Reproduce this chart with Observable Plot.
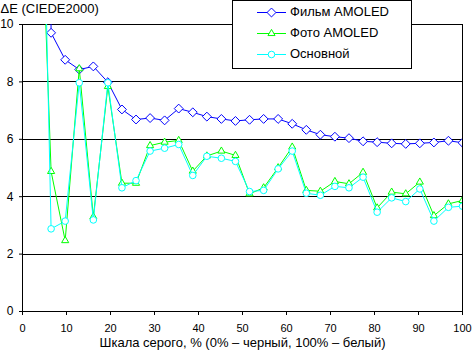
<!DOCTYPE html>
<html>
<head>
<meta charset="utf-8">
<script src="https://cdn.jsdelivr.net/npm/d3@7"></script>
<script src="https://cdn.jsdelivr.net/npm/@observablehq/plot@0.6"></script>
<style>
  html, body { margin: 0; padding: 0; background: #fff; overflow: hidden; }
  #wrap { position: relative; width: 472px; height: 353px; font-family: "Liberation Sans", Arial, sans-serif; }
  #legend { position: absolute; left: 232px; top: 0px; width: 180px; height: 69px; box-sizing: border-box;
            border: 1px solid #000; background: #fff; }
  .row { position: absolute; left: 0; height: 16px; width: 100%; font-size: 13px; line-height: 16px; color: #000; }
  .row svg { position: absolute; left: 24px; top: 0; }
  .row span { position: absolute; left: 57px; top: 0; white-space: nowrap; }
</style>
</head>
<body>
<div id="wrap"></div>
<script>
// Grey-scale steps, % (0% = black, 100% = white)
const grey = [3.2, 6.5, 9.7, 12.9, 16.1, 19.4, 22.6, 25.8, 29.0, 32.3, 35.5, 38.7, 41.9, 45.2, 48.4, 51.6,
              54.8, 58.1, 61.3, 64.5, 67.7, 71.0, 74.2, 77.4, 80.6, 83.9, 87.1, 90.3, 93.5, 96.8, 100];
const filmAmoled = [60, 9.71, 8.77, 8.43, 8.54, 7.99, 7.04, 6.69, 6.74, 6.66, 7.07, 6.94, 6.79, 6.71, 6.64, 6.68,
                    6.71, 6.71, 6.54, 6.33, 6.16, 6.09, 6.04, 5.93, 5.90, 5.86, 5.84, 5.86, 5.89, 5.95, 5.88];
const photoAmoled = [19, 4.88, 2.47, 8.46, 3.30, 7.84, 4.47, 4.47, 5.78, 5.90, 5.96, 4.89, 5.42, 5.59, 5.44, 4.10,
                     4.31, 5.01, 5.73, 4.22, 4.19, 4.53, 4.45, 4.85, 3.61, 4.16, 4.10, 4.51, 3.34, 3.75, 3.87];
const basic = [26, 2.88, 3.15, 7.97, 3.19, 7.97, 4.31, 4.56, 5.59, 5.69, 5.82, 4.74, 5.41, 5.34, 5.23, 4.18,
               4.22, 4.97, 5.59, 4.12, 4.05, 4.36, 4.31, 4.68, 3.46, 3.96, 3.83, 4.27, 3.15, 3.63, 3.67];
const seriesNames = ["Фильм AMOLED", "Фото AMOLED", "Основной"];
const seriesColors = ["#0000ff", "#00ff00", "#00ffff"];
const seriesSymbols = ["diamond2", "triangle2", "circle"];
const seriesR = [4.0, 3.4, 3.3];
const xTicks = [0, 10, 20, 30, 40, 50, 60, 70, 80, 90, 100];
const yTicks = [0, 2, 4, 6, 8, 10];
const yLabel = "ΔE (CIEDE2000)";
const xLabel = "Шкала серого, % (0% – черный, 100% – белый)";

const allValues = [filmAmoled, photoAmoled, basic];
const series = allValues.map((vals, k) => grey.map((g, i) => ({x: g, y: vals[i], s: seriesNames[k]})));

const marks = [
  Plot.ruleY(yTicks, {stroke: "#000", shapeRendering: "crispEdges"}),
  Plot.frame({stroke: "#000", shapeRendering: "crispEdges"}),
  Plot.axisY({ticks: yTicks, tickSize: 3, tickPadding: 6, label: null, tickFormat: d => String(d), fontSize: 12}),
  Plot.axisX({ticks: xTicks, tickSize: 4, tickPadding: 9, label: null, tickFormat: d => String(d), fontSize: 11}),
  Plot.text([yLabel], {text: d => d, frameAnchor: "top-left", textAnchor: "start", lineAnchor: "top", dx: -22, dy: -21, fill: "#000", fontSize: 13}),
  Plot.text([xLabel], {text: d => d, frameAnchor: "bottom", textAnchor: "middle", lineAnchor: "bottom", dy: 35, fill: "#000", fontSize: 13})
];
series.forEach((data, k) => {
  marks.push(Plot.line(data, {x: "x", y: "y", stroke: seriesColors[k], strokeWidth: 1, clip: true}));
  marks.push(Plot.dot(data, {x: "x", y: "y", stroke: seriesColors[k], fill: "#fff", strokeWidth: 1,
                             symbol: seriesSymbols[k], r: seriesR[k], clip: true}));
});

const chart = Plot.plot({
  width: 472, height: 353,
  marginLeft: 22, marginRight: 10, marginTop: 24, marginBottom: 42,
  x: {domain: [0, 100]},
  y: {domain: [0, 10]},
  style: {fontFamily: "'Liberation Sans', Arial, sans-serif", fontSize: "12px", background: "#fff", color: "#000", overflow: "visible"},
  marks
});
const wrap = document.getElementById("wrap");
wrap.appendChild(chart);

// legend overlay
const legend = document.createElement("div");
legend.id = "legend";
const rowCenters = [12, 33, 54];
const symMap = {diamond2: d3.symbolDiamond2, triangle2: d3.symbolTriangle2, circle: d3.symbolCircle};
seriesNames.forEach((name, k) => {
  const row = document.createElement("div");
  row.className = "row";
  row.style.top = (rowCenters[k] - 8 - 1) + "px";
  const svg = d3.create("svg").attr("width", 30).attr("height", 16);
  svg.append("line").attr("x1", 0).attr("x2", 29).attr("y1", 8.5).attr("y2", 8.5)
     .attr("stroke", seriesColors[k]).attr("stroke-width", 1);
  svg.append("path").attr("transform", "translate(14.5,8.5)")
     .attr("d", d3.symbol(symMap[seriesSymbols[k]], seriesR[k] * seriesR[k] * Math.PI)())
     .attr("fill", "#fff").attr("stroke", seriesColors[k]);
  row.appendChild(svg.node());
  const span = document.createElement("span");
  span.textContent = name;
  row.appendChild(span);
  legend.appendChild(row);
});
wrap.appendChild(legend);
</script>
</body>
</html>
